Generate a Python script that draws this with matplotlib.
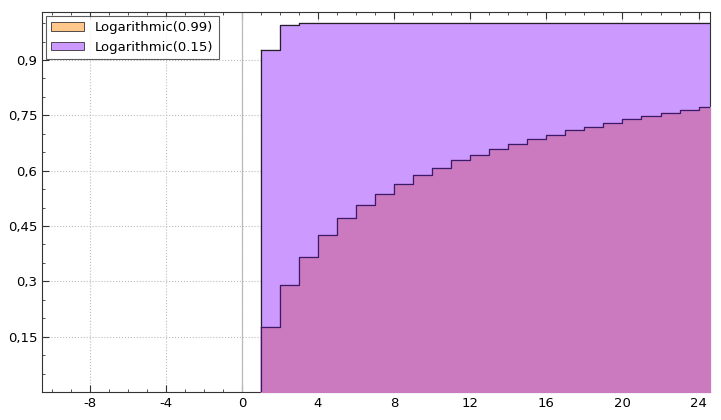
import matplotlib
matplotlib.use("Agg")
import matplotlib.pyplot as plt
from matplotlib.patches import Patch
from matplotlib.ticker import AutoMinorLocator

plt.rcParams["axes.unicode_minus"] = False

xs = list(range(1, 26))
cdf_099 = [0.177, 0.289, 0.367, 0.426, 0.471, 0.506, 0.538, 0.565, 0.587, 0.608,
           0.630, 0.643, 0.659, 0.672, 0.686, 0.697, 0.710, 0.718, 0.729, 0.739,
           0.747, 0.755, 0.764, 0.772, 0.778]
cdf_015 = [0.927, 0.994, 0.999] + [1.0] * 22
labels = ["Logarithmic(0.99)", "Logarithmic(0.15)"]

fig = plt.figure(figsize=(7.21, 4.20), dpi=100)
ax = fig.add_axes([42/721, 1-392/420, (710-42)/721, (392-12)/420])

ax.fill_between(xs, cdf_015, step="post", color="#cc99ff", zorder=2)
ax.step(xs, cdf_015, where="post", color="#222222", lw=0.9, zorder=3)
ax.plot([1, 1], [0, cdf_015[0]], color="#222222", lw=0.9, zorder=3)
ax.fill_between(xs, cdf_099, step="post", color="#cc7abf", zorder=4)
ax.step(xs, cdf_099, where="post", color="#3a1a6a", lw=0.9, zorder=5)
ax.plot([1, 1], [0, cdf_099[0]], color="#3a1a6a", lw=0.9, zorder=5)

ax.set_xlim(-10.5, 24.6)
ax.set_ylim(0, 1.03)
ax.axvline(0, color="#bbbbbb", lw=0.9, zorder=1)
ax.set_xticks([-8, -4, 0, 4, 8, 12, 16, 20, 24])
ax.set_yticks([0.15, 0.3, 0.45, 0.6, 0.75, 0.9])
ax.set_yticklabels(["0,15", "0,3", "0,45", "0,6", "0,75", "0,9"])
ax.xaxis.set_minor_locator(AutoMinorLocator(4))
ax.yaxis.set_minor_locator(AutoMinorLocator(3))
ax.tick_params(which="both", direction="in", top=True, right=True, labelsize=9.5, color="#333333")
ax.tick_params(which="major", length=5)
ax.tick_params(which="minor", length=2.5)
ax.grid(True, which="major", linestyle=":", color="#bbbbbb", lw=0.8, zorder=0)
ax.set_axisbelow(True)
for s in ax.spines.values():
    s.set_color("#333333")

handles = [Patch(facecolor="#ffc88a", edgecolor="#333333", lw=0.6),
           Patch(facecolor="#cc99ff", edgecolor="#333333", lw=0.6)]
leg = ax.legend(handles, labels, loc="upper left", fontsize=9.5, frameon=True,
                fancybox=False, edgecolor="#333333", handlelength=2.5, handleheight=0.6,
                borderaxespad=0.3)
leg.get_frame().set_linewidth(0.8)
leg.set_zorder(10)

fig.savefig("out.png", dpi=100)
